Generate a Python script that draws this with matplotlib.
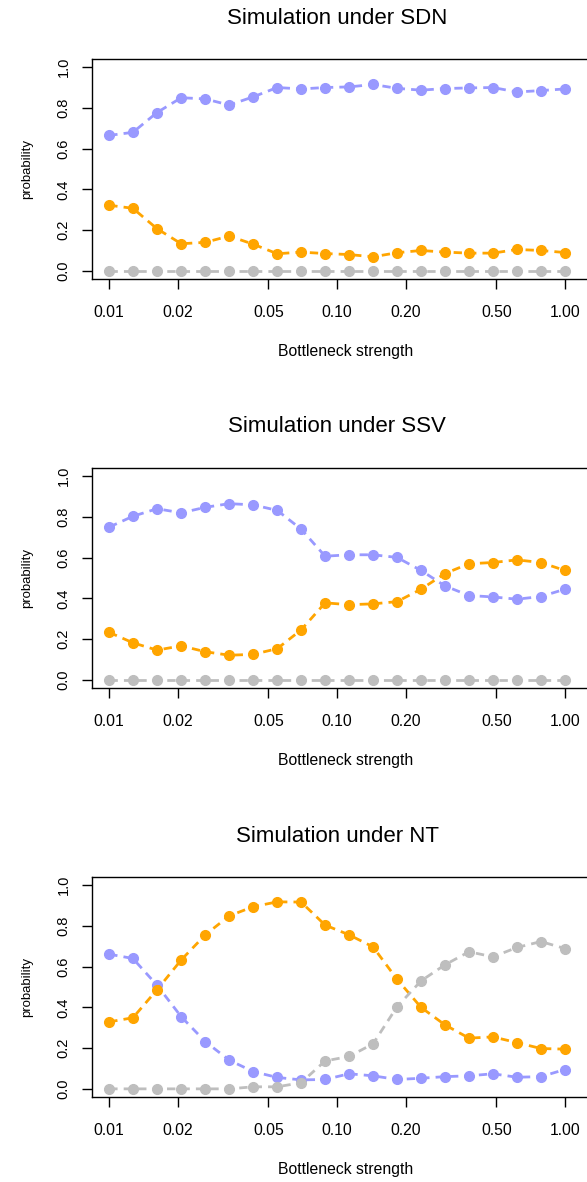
import matplotlib.pyplot as plt
from matplotlib.ticker import FixedLocator, NullLocator

plt.rcParams['font.family'] = ['Liberation Sans', 'DejaVu Sans']

# bottleneck strengths (log spaced, 0.01 .. 1)
bottleneck = [0.0100, 0.0127, 0.0162, 0.0207, 0.0264, 0.0336, 0.0428, 0.0546,
              0.0695, 0.0886, 0.1129, 0.1438, 0.1833, 0.2336, 0.2976, 0.3793,
              0.4833, 0.6158, 0.7848, 1.0000]

titles = ["Simulation under SDN", "Simulation under SSV", "Simulation under NT"]

sdn_blue = [0.665, 0.680, 0.777, 0.850, 0.844, 0.814, 0.854, 0.900, 0.893, 0.900,
            0.903, 0.915, 0.896, 0.887, 0.895, 0.898, 0.900, 0.878, 0.885, 0.893]
sdn_orange = [0.322, 0.307, 0.207, 0.133, 0.140, 0.171, 0.131, 0.084, 0.092, 0.085,
              0.080, 0.069, 0.089, 0.100, 0.092, 0.087, 0.087, 0.105, 0.100, 0.090]
sdn_gray = [0.0] * 20

ssv_blue = [0.750, 0.803, 0.840, 0.820, 0.847, 0.865, 0.859, 0.832, 0.740, 0.607,
            0.614, 0.614, 0.601, 0.537, 0.461, 0.414, 0.407, 0.396, 0.409, 0.445]
ssv_orange = [0.233, 0.182, 0.146, 0.167, 0.138, 0.121, 0.125, 0.153, 0.245, 0.378,
              0.369, 0.373, 0.384, 0.445, 0.522, 0.570, 0.576, 0.589, 0.576, 0.537]
ssv_gray = [0.0] * 20

nt_blue = [0.661, 0.640, 0.509, 0.354, 0.232, 0.141, 0.085, 0.056, 0.044, 0.046,
           0.074, 0.064, 0.046, 0.052, 0.060, 0.064, 0.074, 0.057, 0.060, 0.095]
nt_orange = [0.329, 0.349, 0.486, 0.633, 0.756, 0.849, 0.894, 0.918, 0.917, 0.804,
             0.756, 0.697, 0.538, 0.400, 0.314, 0.249, 0.255, 0.227, 0.198, 0.195]
nt_gray = [0.0, 0.0, 0.0, 0.0, 0.0, 0.0, 0.010, 0.010, 0.030, 0.137,
           0.159, 0.221, 0.403, 0.530, 0.609, 0.673, 0.648, 0.694, 0.723, 0.689]

panels = [(sdn_blue, sdn_orange, sdn_gray),
          (ssv_blue, ssv_orange, ssv_gray),
          (nt_blue, nt_orange, nt_gray)]

xticks = [0.01, 0.02, 0.05, 0.10, 0.20, 0.50, 1.00]
xticklabels = ["0.01", "0.02", "0.05", "0.10", "0.20", "0.50", "1.00"]
yticks = [0.0, 0.2, 0.4, 0.6, 0.8, 1.0]

colors = ["#9999FF", "#FFA500", "#BEBEBE"]

W, H = 587, 1182
fig = plt.figure(figsize=(W / 100, H / 100), dpi=100)

left_px, right_px = 91.7, 600
for i, (title, series) in enumerate(zip(titles, panels)):
    top_px = 59 + 409 * i
    bot_px = 279 + 409 * i
    ax = fig.add_axes([left_px / W, 1 - bot_px / H,
                       (right_px - left_px) / W, (bot_px - top_px) / H])
    for vals, c in zip(series, colors):
        ax.plot(bottleneck, vals, color=c, lw=2, dashes=(3, 2.2),
                marker='o', ms=7, mec=c, mfc=c, clip_on=False)
    ax.set_xscale('log')
    ax.set_xlim(10 ** -2.077, 10 ** 0.154)
    ax.set_ylim(-0.04, 1.04)
    ax.xaxis.set_major_locator(FixedLocator(xticks))
    ax.xaxis.set_minor_locator(NullLocator())
    ax.set_xticklabels(xticklabels)
    ax.set_yticks(yticks)
    ax.set_yticklabels(["0.0", "0.2", "0.4", "0.6", "0.8", "1.0"],
                       rotation=90, va='center')
    ax.tick_params(axis='x', length=7, width=1, pad=12, labelsize=11.3)
    ax.tick_params(axis='y', length=7, width=1, pad=8, labelsize=10.5)
    for s in ax.spines.values():
        s.set_linewidth(1)
    ax.set_xlabel("Bottleneck strength", fontsize=11.3, labelpad=17)
    ax.set_ylabel("probability", fontsize=9.5, labelpad=17)
    fig.text(337 / W, 1 - (18 + 409 * i) / H, title, fontsize=16,
             ha='center', va='center')

fig.savefig("out.png", dpi=100)
